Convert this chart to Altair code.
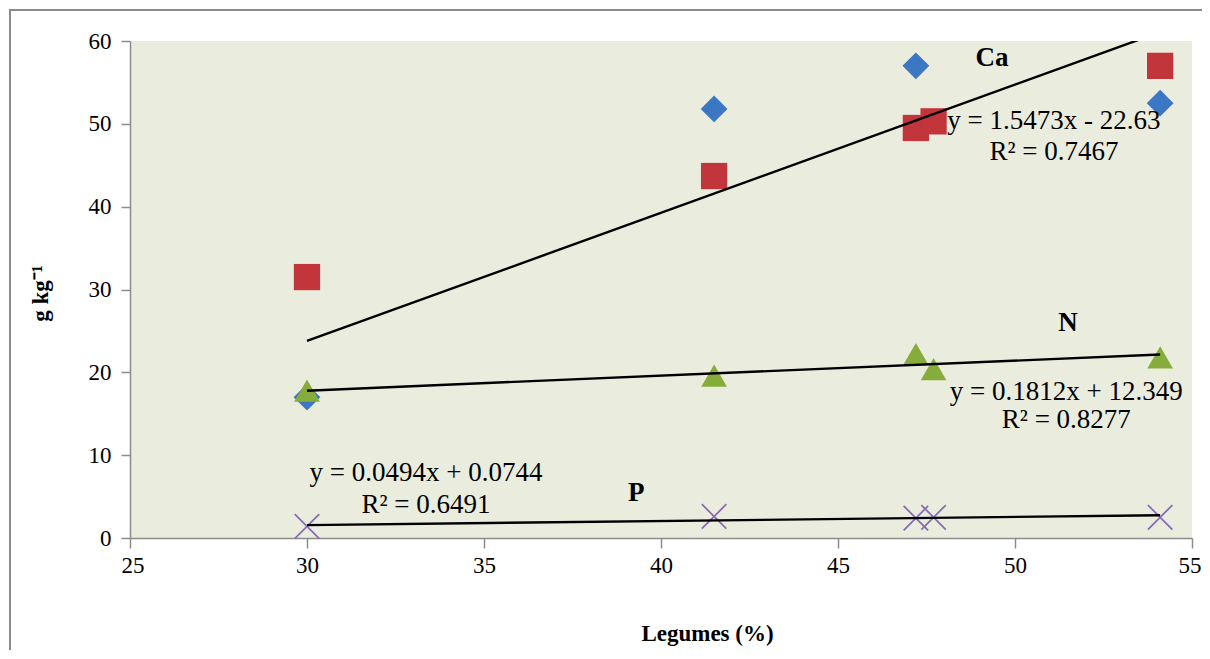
import altair as alt
import pandas as pd

# ---- data ----
ca_x = [30.0, 41.5, 47.2, 54.1]
ca_y = [17.0, 51.8, 57.0, 52.5]
k_x = [30.0, 41.5, 47.2, 47.7, 54.1]
k_y = [31.5, 43.7, 49.5, 50.3, 57.0]
n_x = [30.0, 41.5, 47.2, 47.7, 54.1]
n_y = [17.8, 19.6, 22.2, 20.4, 21.8]
p_x = [30.0, 41.5, 47.2, 47.7, 54.1]
p_y = [1.4, 2.6, 2.4, 2.5, 2.5]

trend_names = ["Ca", "N", "P"]
trend_slope = [1.5473, 0.1812, 0.0494]
trend_intercept = [-22.63, 12.349, 0.0744]
trend_x0 = [30.0, 30.0, 30.0]
trend_x1 = [54.1, 54.1, 54.1]

label_text = ["Ca", "N", "P"]
label_x = [49.35, 51.5, 39.3]
label_y = [58.0, 26.0, 5.4]

eq_text = ["y = 1.5473x - 22.63", "R² = 0.7467",
           "y = 0.1812x + 12.349", "R² = 0.8277",
           "y = 0.0494x + 0.0744", "R² = 0.6491"]
eq_x = [51.1, 51.1, 51.45, 51.45, 33.36, 33.36]
eq_y = [50.4, 46.6, 17.6, 14.3, 7.85, 4.0]

x_ticks = [25, 30, 35, 40, 45, 50, 55]
y_ticks = [0, 10, 20, 30, 40, 50, 60]

FONT = "Liberation Serif"

# ---- tables ----
pts = pd.concat([
    pd.DataFrame({"x": ca_x, "y": ca_y, "s": "Ca"}),
    pd.DataFrame({"x": k_x, "y": k_y, "s": "K"}),
    pd.DataFrame({"x": n_x, "y": n_y, "s": "N"}),
], ignore_index=True)
ppts = pd.DataFrame({"x": p_x, "y": p_y, "s": "P"})

rows = []
for nm, m, b, a0, a1 in zip(trend_names, trend_slope, trend_intercept, trend_x0, trend_x1):
    rows.append({"s": nm, "x": a0, "y": m * a0 + b})
    rows.append({"s": nm, "x": a1, "y": m * a1 + b})
trend = pd.DataFrame(rows)

labels = pd.DataFrame({"t": label_text, "x": label_x, "y": label_y})
eqs = pd.DataFrame({"t": eq_text, "x": eq_x, "y": eq_y})

xs = alt.Scale(domain=[25, 55], nice=False, zero=False)
ys = alt.Scale(domain=[0, 60], nice=False, zero=False)

common = dict(grid=False, domainColor="#8c8c8c", tickColor="#8c8c8c",
              labelFont=FONT, labelFontSize=23, labelColor="black",
              titleFont=FONT, titleFontSize=23, titleFontWeight="bold",
              titleColor="black", domainWidth=1.5, tickWidth=1.5)

xax = alt.Axis(values=x_ticks, tickSize=10, labelPadding=6,
               labelFlush=True, labelFlushOffset=9,
               title="Legumes (%)", titleX=577, titleY=95, titleAlign="center",
               titleBaseline="middle", **common)
yax = alt.Axis(values=y_ticks, tickSize=9, labelPadding=10, labelFlush=False,
               title="g kg⁻¹", titleX=-90, titleY=252, titleAlign="center",
               titleBaseline="middle", titleAngle=270, **common)

frame = alt.Chart(pd.DataFrame({"a": [0]})).mark_rect(
    fill="transparent", stroke="#8a8a8a", strokeWidth=2, clip=False
).encode(x=alt.value(-120), x2=alt.value(1200), y=alt.value(-31), y2=alt.value(700))

base_pts = alt.Chart(pts).mark_point(filled=True, opacity=1, strokeWidth=0).encode(
    x=alt.X("x:Q", scale=xs, axis=xax),
    y=alt.Y("y:Q", scale=ys, axis=yax),
    shape=alt.Shape("s:N", scale=alt.Scale(domain=["Ca", "K", "N"],
                                           range=["diamond", "square", "triangle-up"]),
                    legend=None),
    color=alt.Color("s:N", scale=alt.Scale(domain=["Ca", "K", "N"],
                                           range=["#3b77c3", "#c2353a", "#86ad3b"]),
                    legend=None),
    size=alt.Size("s:N", scale=alt.Scale(domain=["Ca", "K", "N"],
                                         range=[720, 660, 700]), legend=None),
)

p_layer = alt.Chart(ppts).mark_point(
    shape="M-1,-1L1,1M-1,1L1,-1", filled=False, color="#8a6cb5",
    strokeWidth=1.8, size=600, opacity=1
).encode(x=alt.X("x:Q", scale=xs, axis=xax), y=alt.Y("y:Q", scale=ys, axis=yax))

lines = alt.Chart(trend).mark_line(color="black", strokeWidth=2.4, clip=True).encode(
    x=alt.X("x:Q", scale=xs, axis=xax), y=alt.Y("y:Q", scale=ys, axis=yax), detail="s:N")

lab = alt.Chart(labels).mark_text(font=FONT, fontSize=27, fontWeight="bold",
                                  color="black", align="center", baseline="middle").encode(
    x=alt.X("x:Q", scale=xs, axis=xax), y=alt.Y("y:Q", scale=ys, axis=yax), text="t:N")

eq = alt.Chart(eqs).mark_text(font=FONT, fontSize=27, color="black",
                              align="center", baseline="middle").encode(
    x=alt.X("x:Q", scale=xs, axis=xax), y=alt.Y("y:Q", scale=ys, axis=yax), text="t:N")

chart = alt.layer(frame, base_pts, p_layer, lines, lab, eq).properties(
    width=1062, height=497,
    autosize=alt.AutoSizeParams(type="none"),
    padding={"left": 122, "top": 33, "right": 10, "bottom": 112},
).configure_view(fill="#eaedde", strokeWidth=0).configure_axis(
    labelFont=FONT, labelFontSize=23, titleFont=FONT, titleFontSize=23
)

chart.save("out.html", embed_options={"renderer": "svg", "actions": False})
